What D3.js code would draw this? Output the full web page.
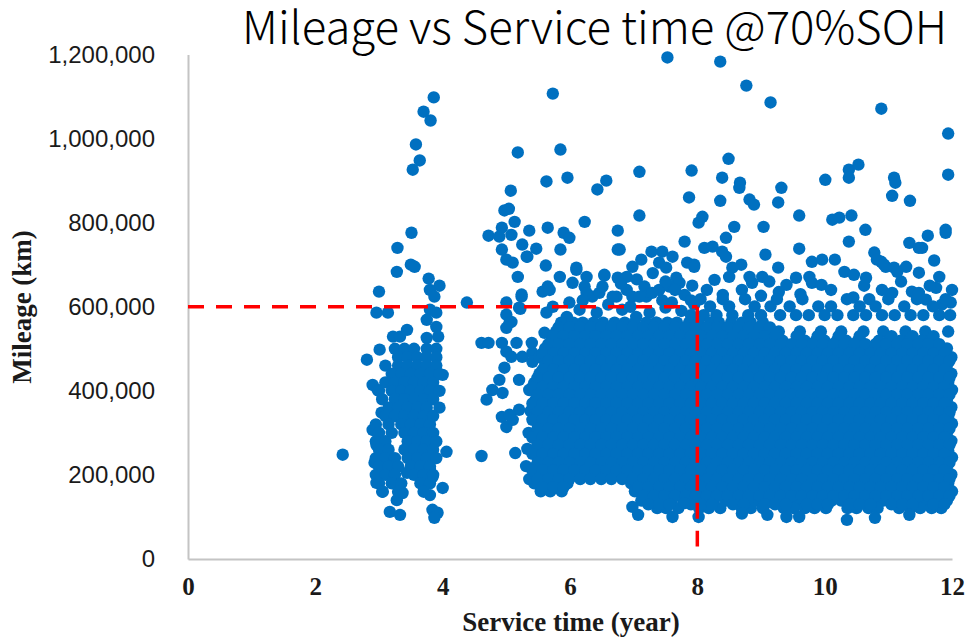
<!DOCTYPE html>
<html>
<head>
<meta charset="utf-8">
<script src="https://cdn.jsdelivr.net/npm/d3@7"></script>
<style>
  html, body { margin: 0; padding: 0; background: #fff; }
  svg { display: block; }
</style>
</head>
<body>
<div id="app"></div>
<script>
// ---------- Data ----------
// service time in years, mileage in thousands of km

const TITLE = "Mileage vs Service time @70%SOH";
const X_LABEL = "Service time (year)";
const Y_LABEL = "Mileage (km)";

const X_TICKS = [0, 2, 4, 6, 8, 10, 12];
const Y_TICKS = [0, 200, 400, 600, 800, 1000, 1200];

// 70% SOH reference: 600,000 km at 8 years
const REF_YEAR = 8;
const REF_MILEAGE = 600;
const REF_LINE_BOTTOM = 30;

// isolated high-mileage points
const highPoints = [
  [3.86,1098],[3.70,1064],[3.81,1043],[3.58,986],[3.64,948],[3.53,926],
  [5.73,1107],[5.18,967],[5.85,974],[5.63,898],[5.96,907],[6.57,900],[6.43,879],
  [5.07,876],[4.97,829],[5.04,833],[5.13,802],[4.93,788],[4.72,769],[5.65,788],
  [5.36,781],[5.90,776],[5.99,764],[6.23,802],[6.75,781],[6.75,736],[5.85,736],
  [5.47,738],[5.32,719],[4.89,767],[5.08,771],[4.93,736],[5.00,712],[5.10,705],
  [5.25,748],[5.33,719],[5.62,698],[5.18,671],[6.54,674],[6.10,688],[6.78,736],
  [7.53,1193],[8.36,1183],[8.77,1126],[9.15,1086],[10.89,1071],[11.94,1012],
  [11.94,914],[8.49,952],[7.91,924],[7.09,921],[8.39,907],[8.67,895],[8.66,883],
  [9.32,883],[8.82,855],[8.89,843],[9.27,848],[8.36,852],[7.87,860],[10.01,902],
  [10.38,926],[10.38,907],[10.53,938],[11.09,907],[11.11,895],[11.06,864],
  [11.34,852],[7.09,817],[9.60,817],[8.08,814],[8.02,800],[8.58,790],[9.04,790],
  [10.12,807],[10.23,812],[10.42,817],[10.64,783],[11.90,783],[11.90,776],
  [11.62,769],[7.80,755],[9.60,738],[10.38,755],[8.45,764],[9.07,724],[11.33,752],
  [11.53,740],[11.72,710],[10.78,729],[10.16,712],[9.27,693],[9.80,707],[9.96,712],
  [8.11,740],[8.24,743],[8.39,731],[7.95,700],[8.45,719],[8.69,700],[10.89,707],
  [10.96,695],[11.48,740],[7.45,731],[7.28,731],[7.12,712],[7.61,719],[7.84,705]
];

// points in the 600k-700k band
const upperBand = [
  [11.80,671],[11.75,645],[11.98,610],[8.27,664],[8.50,671],[8.55,693],[8.82,671],
  [8.86,657],[9.02,671],[9.13,660],[9.40,652],[9.55,669],[9.76,671],[9.80,657],
  [9.95,652],[10.31,683],[10.46,676],[10.65,669],[10.82,712],[10.93,700],[11.09,693],
  [11.14,683],[11.28,695],[11.48,681],[10.90,640],[11.06,633],[11.37,636],[11.48,633],
  [11.59,617],[11.84,605],[6.10,693],[5.84,671],[5.65,648],[5.57,636],[6.26,671],
  [6.23,648],[6.54,676],[6.75,669],[6.89,671],[6.98,695],[7.40,705],[7.51,693],
  [7.67,669],[7.72,657],[7.95,695],[7.40,640],[7.56,648],[7.17,648],[6.98,624],
  [7.20,624],[5.73,600],[5.99,610],[6.35,624],[6.46,633],[6.73,624],[5.68,640],
  [6.04,657],[6.26,633],[6.51,648],[6.67,624],[6.89,640],[7.09,624],[7.29,633],
  [5.63,586],[5.95,576],[6.15,593],[6.42,586],[6.82,593],[7.04,576],[7.25,586],
  [7.36,562],[7.60,610],[7.80,628],[7.92,650],[8.15,640],[8.40,628],[8.70,640],
  [9.00,626],[9.28,635],[9.62,630],[10.10,640],[10.45,622],[10.62,650],[11.20,660],
  [11.65,650],[12.00,640],[6.60,605],[6.95,600],[7.50,598],[7.75,590],[7.95,605],
  [6.20,615],[7.45,615],[7.65,640],[6.80,655],[7.05,665],[7.30,680],[7.50,660],
  [7.90,615]
];

// semi-dense rows just above the solid block, 8-12 years
const bandRows = [
  [580, [7.90,8.10,8.30,8.55,8.80,9.00,9.30,9.55,9.75,10.00,10.20,10.45,10.65,10.90,11.10,11.35,11.55,11.80,11.97]],
  [601, [8.20,8.50,8.90,9.15,9.45,9.90,10.10,10.55,10.80,11.25,11.70]],
  [618, [8.05,8.40,8.75,9.25,9.65,10.35,10.70,11.00,11.45,11.90]]
];

// early vehicles, 2.4-4.6 years
const earlyPoints = [
  [3.51,776],[3.29,740],[3.28,683],[3.50,700],[3.56,695],[3.78,667],[3.95,650],
  [3.00,636],[2.96,586],[3.14,586],[3.80,640],[3.87,624],[3.80,593],[3.90,586],
  [3.75,569],[3.90,552],[3.93,529],[3.44,545],[3.22,529],[3.33,529],[3.75,526],
  [2.81,474],[3.01,498],[2.90,414],[2.98,402],[4.00,438],[3.04,348],[2.90,307],
  [2.96,271],[2.43,248],[4.06,255],[2.93,229],[2.96,181],[3.06,160],[3.37,157],
  [3.28,140],[3.17,112],[3.33,105],[3.80,152],[4.00,169],[3.84,117],[3.92,110],
  [3.87,98],[3.44,205],[3.80,212],[3.84,195],[4.38,610]
];

const earlyRows = [
  [500, [3.25,3.40,3.55,3.75,3.90]],
  [480, [3.30,3.45,3.60,3.75,3.90]],
  [460, [3.10,3.30,3.45,3.60,3.75,3.90]],
  [440, [3.20,3.35,3.50,3.65,3.80,3.95]],
  [420, [3.10,3.25,3.40,3.55,3.70,3.85]],
  [400, [3.00,3.20,3.35,3.50,3.65,3.80,3.95]],
  [380, [3.05,3.25,3.40,3.55,3.70,3.85]],
  [360, [3.15,3.30,3.45,3.60,3.75,3.95]],
  [340, [3.10,3.25,3.40,3.55,3.70,3.85]],
  [320, [2.95,3.15,3.35,3.50,3.65,3.80]],
  [300, [3.00,3.20,3.40,3.55,3.70,3.85]],
  [280, [2.95,3.10,3.45,3.60,3.75,3.90]],
  [260, [3.00,3.15,3.40,3.55,3.70,3.85]],
  [240, [2.95,3.10,3.25,3.45,3.60,3.75,3.90]],
  [220, [3.00,3.15,3.30,3.50,3.65,3.80]],
  [200, [2.95,3.10,3.25,3.55,3.70,3.85]],
  [180, [3.00,3.20,3.35,3.65,3.80]],
  [160, [3.05,3.30,3.70]]
];

// points between the two groups, 4.5-5.7 years
const midPoints = [
  [4.61,514],[4.72,514],[4.93,514],[5.00,493],[5.08,481],[4.97,455],[4.89,426],
  [4.78,402],[4.69,379],[4.94,395],[4.93,338],[5.00,314],[4.61,245],[5.14,252],
  [5.20,426],[5.36,402],[5.16,514],[5.25,481],[5.40,514],[5.41,490],[5.41,469],
  [5.10,331],[5.20,355],[5.05,343],[5.00,581],[5.08,564],[5.24,624],[5.20,598],
  [5.22,595],[5.00,610],[5.05,562],[5.00,550],[5.60,538],[5.73,531],[5.24,629],
  [5.35,300],[5.33,262],[5.38,352],[5.31,221],[5.36,190]
];

// bulk of the fleet, 5.5-12 years
const denseRows = [
  [562, [5.86,6.05,6.20,6.37,6.52,6.70,6.86,7.02,7.20,7.35,7.53,7.68,7.87,8.02,8.20,8.34,8.53,8.70,8.84,9.03]],
  [541, [5.78,5.96,6.11,6.29,6.44,6.62,6.77,6.96,7.10,7.29,7.43,7.62,7.77,7.95,8.10,8.28,8.43,8.62,8.76,8.95,9.09,9.28,9.61,9.94,10.26,10.61,10.92,11.27,11.58,11.94]],
  [519, [5.71,5.87,6.04,6.21,6.35,6.54,6.68,6.87,7.02,7.20,7.35,7.53,7.68,7.87,8.01,8.20,8.34,8.53,8.68,8.86,9.01,9.19,9.34,9.69,9.86,10.00,10.19,10.34,10.52,10.85,11.00,11.19,11.33,11.52,11.66]],
  [501, [5.61,5.79,5.94,6.13,6.27,6.46,6.60,6.79,6.94,7.12,7.27,7.45,7.60,7.79,7.93,8.12,8.26,8.45,8.60,8.78,8.93,9.11,9.26,9.45,9.59,9.78,9.92,10.11,10.26,10.44,10.59,10.77,10.92,11.11,11.25,11.44,11.58,11.77,11.92]],
  [480, [5.52,5.71,5.85,6.04,6.19,6.37,6.52,6.70,6.85,7.04,7.18,7.37,7.51,7.70,7.85,8.03,8.18,8.36,8.51,8.70,8.84,9.03,9.17,9.36,9.51,9.69,9.84,10.02,10.17,10.36,10.50,10.69,10.83,11.02,11.17,11.35,11.50,11.68,11.83,11.99]],
  [461, [5.61,5.79,5.94,6.13,6.27,6.46,6.60,6.79,6.94,7.12,7.27,7.45,7.60,7.79,7.93,8.12,8.26,8.45,8.60,8.78,8.93,9.11,9.26,9.45,9.59,9.78,9.92,10.11,10.26,10.44,10.59,10.77,10.92,11.11,11.25,11.44,11.58,11.77,11.92]],
  [441, [5.52,5.71,5.85,6.04,6.19,6.37,6.52,6.70,6.85,7.04,7.18,7.37,7.51,7.70,7.85,8.03,8.18,8.36,8.51,8.70,8.84,9.03,9.17,9.36,9.51,9.69,9.84,10.02,10.17,10.36,10.50,10.69,10.83,11.02,11.17,11.35,11.50,11.68,11.83,11.99]],
  [419, [5.44,5.63,5.77,5.96,6.11,6.29,6.44,6.62,6.77,6.96,7.10,7.29,7.43,7.62,7.77,7.95,8.10,8.28,8.43,8.62,8.76,8.95,9.09,9.28,9.43,9.61,9.76,9.94,10.09,10.28,10.42,10.61,10.75,10.94,11.09,11.27,11.42,11.60,11.75,11.94]],
  [402, [5.54,5.69,5.87,6.02,6.21,6.35,6.54,6.68,6.87,7.02,7.20,7.35,7.53,7.68,7.87,8.01,8.20,8.34,8.53,8.68,8.86,9.01,9.19,9.34,9.53,9.67,9.86,10.00,10.19,10.34,10.52,10.66,10.85,11.00,11.19,11.33,11.52,11.66,11.85,12.00]],
  [379, [5.46,5.61,5.79,5.94,6.13,6.27,6.46,6.60,6.79,6.94,7.12,7.27,7.45,7.60,7.79,7.93,8.12,8.26,8.45,8.60,8.78,8.93,9.11,9.26,9.45,9.59,9.78,9.92,10.11,10.26,10.44,10.59,10.77,10.92,11.11,11.25,11.44,11.58,11.77,11.92]],
  [361, [5.52,5.71,5.85,6.04,6.19,6.37,6.52,6.70,6.85,7.04,7.18,7.37,7.51,7.70,7.85,8.03,8.18,8.36,8.51,8.70,8.84,9.03,9.17,9.36,9.51,9.69,9.84,10.02,10.17,10.36,10.50,10.69,10.83,11.02,11.17,11.35,11.50,11.68,11.83,11.99]],
  [338, [5.44,5.63,5.77,5.96,6.11,6.29,6.44,6.62,6.77,6.96,7.10,7.29,7.43,7.62,7.77,7.95,8.10,8.28,8.43,8.62,8.76,8.95,9.09,9.28,9.43,9.61,9.76,9.94,10.09,10.28,10.42,10.61,10.75,10.94,11.09,11.27,11.42,11.60,11.75,11.94]],
  [322, [5.54,5.69,5.87,6.02,6.21,6.35,6.54,6.68,6.87,7.02,7.20,7.35,7.53,7.68,7.87,8.01,8.20,8.34,8.53,8.68,8.86,9.01,9.19,9.34,9.53,9.67,9.86,10.00,10.19,10.34,10.52,10.66,10.85,11.00,11.19,11.33,11.52,11.66,11.85,12.00]],
  [299, [5.46,5.61,5.79,5.94,6.13,6.27,6.46,6.60,6.79,6.94,7.12,7.27,7.45,7.60,7.79,7.93,8.12,8.26,8.45,8.60,8.78,8.93,9.11,9.26,9.45,9.59,9.78,9.92,10.11,10.26,10.44,10.59,10.77,10.92,11.11,11.25,11.44,11.58,11.77,11.92]],
  [281, [5.52,5.71,5.85,6.04,6.19,6.37,6.52,6.70,6.85,7.04,7.18,7.37,7.51,7.70,7.85,8.03,8.18,8.36,8.51,8.70,8.84,9.03,9.17,9.36,9.51,9.69,9.84,10.02,10.17,10.36,10.50,10.69,10.83,11.02,11.17,11.35,11.50,11.68,11.83,11.99]],
  [258, [5.44,5.63,5.77,5.96,6.11,6.29,6.44,6.62,6.77,6.96,7.10,7.29,7.43,7.62,7.77,7.95,8.10,8.28,8.43,8.62,8.76,8.95,9.09,9.28,9.43,9.61,9.76,9.94,10.09,10.28,10.42,10.61,10.75,10.94,11.09,11.27,11.42,11.60,11.75,11.94]],
  [242, [5.54,5.69,5.87,6.02,6.21,6.35,6.54,6.68,6.87,7.02,7.20,7.35,7.53,7.68,7.87,8.01,8.20,8.34,8.53,8.68,8.86,9.01,9.19,9.34,9.53,9.67,9.86,10.00,10.19,10.34,10.52,10.66,10.85,11.00,11.19,11.33,11.52,11.66,11.85,12.00]],
  [219, [5.46,5.61,5.79,5.94,6.13,6.27,6.46,6.60,6.79,6.94,7.12,7.27,7.45,7.60,7.79,7.93,8.12,8.26,8.45,8.60,8.78,8.93,9.11,9.26,9.45,9.59,9.78,9.92,10.11,10.26,10.44,10.59,10.77,10.92,11.11,11.25,11.44,11.58,11.77,11.92]],
  [201, [5.52,5.71,5.85,6.04,6.19,6.37,6.52,6.70,6.85,7.04,7.18,7.37,7.51,7.70,7.85,8.03,8.18,8.36,8.51,8.70,8.84,9.03,9.17,9.36,9.51,9.69,9.84,10.02,10.17,10.36,10.50,10.69,10.83,11.02,11.17,11.35,11.50,11.68,11.83,11.99]],
  [180, [5.44,5.63,5.77,5.96,6.96,7.10,7.29,7.43,7.62,7.77,7.95,8.10,8.28,8.43,8.62,8.76,8.95,9.09,9.28,9.43,9.61,9.76,9.94,10.09,10.28,10.42,10.61,10.75,10.94,11.09,11.27,11.42,11.60,11.75,11.94]],
  [161, [5.54,5.69,5.87,7.02,7.20,7.35,7.53,7.68,7.87,8.01,8.20,8.34,8.53,8.68,8.86,9.01,9.19,9.34,9.53,9.67,9.86,10.00,10.19,10.34,10.52,10.66,10.85,11.00,11.19,11.33,11.52,11.66,11.85,12.00]],
  [139, [7.12,7.27,7.45,7.60,7.79,7.93,8.12,8.26,8.45,8.60,8.78,8.93,9.11,9.26,9.45,9.59,9.78,9.92,10.11,10.26,10.44,10.59,10.77,10.92,11.11,11.25,11.44,11.58,11.77,11.92]],
  [121, [7.37,7.51,7.70,8.03,8.18,8.36,8.70,8.84,9.03,9.36,9.51,9.69,9.84,10.02,10.36,10.50,10.69,10.83,11.17,11.35,11.50,11.68,11.83]]
];

// the same block read between the rows above
const denseFill = [
  [551, [5.82,5.99,6.16,6.32,6.49,6.65,6.82,6.99,7.15,7.32,7.48,7.65,7.82,7.98,8.15,8.31,8.48,8.65,8.81,8.98,9.14]],
  [530, [5.74,5.90,6.07,6.24,6.40,6.57,6.73,6.90,7.07,7.23,7.40,7.56,7.73,7.90,8.06,8.23,8.39,8.56,8.73,8.89,9.06,9.22,9.56,9.89,10.22,10.55,11.05,11.38,11.71]],
  [511, [5.66,5.82,5.99,6.16,6.32,6.49,6.65,6.82,6.99,7.15,7.32,7.48,7.65,7.82,7.98,8.15,8.31,8.48,8.65,8.81,8.98,9.14,9.31,9.48,9.64,9.81,9.97,10.14,10.31,10.47,10.64,10.80,10.97,11.14,11.30,11.47,11.63,11.80]],
  [489, [5.57,5.74,5.90,6.07,6.24,6.40,6.57,6.73,6.90,7.07,7.23,7.40,7.56,7.73,7.90,8.06,8.23,8.39,8.56,8.73,8.89,9.06,9.22,9.39,9.56,9.72,9.89,10.05,10.22,10.39,10.55,10.72,10.88,11.05,11.22,11.38,11.55,11.71,11.88]],
  [471, [5.66,5.82,5.99,6.16,6.32,6.49,6.65,6.82,6.99,7.15,7.32,7.48,7.65,7.82,7.98,8.15,8.31,8.48,8.65,8.81,8.98,9.14,9.31,9.48,9.64,9.81,9.97,10.14,10.31,10.47,10.64,10.80,10.97,11.14,11.30,11.47,11.63,11.80,11.96]],
  [450, [5.57,5.74,5.90,6.07,6.24,6.40,6.57,6.73,6.90,7.07,7.23,7.40,7.56,7.73,7.90,8.06,8.23,8.39,8.56,8.73,8.89,9.06,9.22,9.39,9.56,9.72,9.89,10.05,10.22,10.39,10.55,10.72,10.88,11.05,11.22,11.38,11.55,11.71,11.88]],
  [431, [5.49,5.66,5.82,5.99,6.16,6.32,6.49,6.65,6.82,6.99,7.15,7.32,7.48,7.65,7.82,7.98,8.15,8.31,8.48,8.65,8.81,8.98,9.14,9.31,9.48,9.64,9.81,9.97,10.14,10.31,10.47,10.64,10.80,10.97,11.14,11.30,11.47,11.63,11.80,11.96]],
  [409, [5.41,5.57,5.74,5.90,6.07,6.24,6.40,6.57,6.73,6.90,7.07,7.23,7.40,7.56,7.73,7.90,8.06,8.23,8.39,8.56,8.73,8.89,9.06,9.22,9.39,9.56,9.72,9.89,10.05,10.22,10.39,10.55,10.72,10.88,11.05,11.22,11.38,11.55,11.71,11.88]],
  [391, [5.49,5.66,5.82,5.99,6.16,6.32,6.49,6.65,6.82,6.99,7.15,7.32,7.48,7.65,7.82,7.98,8.15,8.31,8.48,8.65,8.81,8.98,9.14,9.31,9.48,9.64,9.81,9.97,10.14,10.31,10.47,10.64,10.80,10.97,11.14,11.30,11.47,11.63,11.80,11.96]],
  [370, [5.41,5.57,5.74,5.90,6.07,6.24,6.40,6.57,6.73,6.90,7.07,7.23,7.40,7.56,7.73,7.90,8.06,8.23,8.39,8.56,8.73,8.89,9.06,9.22,9.39,9.56,9.72,9.89,10.05,10.22,10.39,10.55,10.72,10.88,11.05,11.22,11.38,11.55,11.71,11.88]],
  [349, [5.49,5.66,5.82,5.99,6.16,6.32,6.49,6.65,6.82,6.99,7.15,7.32,7.48,7.65,7.82,7.98,8.15,8.31,8.48,8.65,8.81,8.98,9.14,9.31,9.48,9.64,9.81,9.97,10.14,10.31,10.47,10.64,10.80,10.97,11.14,11.30,11.47,11.63,11.80,11.96]],
  [331, [5.41,5.57,5.74,5.90,6.07,6.24,6.40,6.57,6.73,6.90,7.07,7.23,7.40,7.56,7.73,7.90,8.06,8.23,8.39,8.56,8.73,8.89,9.06,9.22,9.39,9.56,9.72,9.89,10.05,10.22,10.39,10.55,10.72,10.88,11.05,11.22,11.38,11.55,11.71,11.88]],
  [310, [5.49,5.66,5.82,5.99,6.16,6.32,6.49,6.65,6.82,6.99,7.15,7.32,7.48,7.65,7.82,7.98,8.15,8.31,8.48,8.65,8.81,8.98,9.14,9.31,9.48,9.64,9.81,9.97,10.14,10.31,10.47,10.64,10.80,10.97,11.14,11.30,11.47,11.63,11.80,11.96]],
  [289, [5.41,5.57,5.74,5.90,6.07,6.24,6.40,6.57,6.73,6.90,7.07,7.23,7.40,7.56,7.73,7.90,8.06,8.23,8.39,8.56,8.73,8.89,9.06,9.22,9.39,9.56,9.72,9.89,10.05,10.22,10.39,10.55,10.72,10.88,11.05,11.22,11.38,11.55,11.71,11.88]],
  [271, [5.49,5.66,5.82,5.99,6.16,6.32,6.49,6.65,6.82,6.99,7.15,7.32,7.48,7.65,7.82,7.98,8.15,8.31,8.48,8.65,8.81,8.98,9.14,9.31,9.48,9.64,9.81,9.97,10.14,10.31,10.47,10.64,10.80,10.97,11.14,11.30,11.47,11.63,11.80,11.96]],
  [250, [5.41,5.57,5.74,5.90,6.07,6.24,6.40,6.57,6.73,6.90,7.07,7.23,7.40,7.56,7.73,7.90,8.06,8.23,8.39,8.56,8.73,8.89,9.06,9.22,9.39,9.56,9.72,9.89,10.05,10.22,10.39,10.55,10.72,10.88,11.05,11.22,11.38,11.55,11.71,11.88]],
  [229, [5.49,5.66,5.82,5.99,6.16,6.32,6.49,6.65,6.82,6.99,7.15,7.32,7.48,7.65,7.82,7.98,8.15,8.31,8.48,8.65,8.81,8.98,9.14,9.31,9.48,9.64,9.81,9.97,10.14,10.31,10.47,10.64,10.80,10.97,11.14,11.30,11.47,11.63,11.80,11.96]],
  [211, [5.41,5.57,5.74,5.90,6.07,6.24,6.40,6.57,6.73,6.90,7.07,7.23,7.40,7.56,7.73,7.90,8.06,8.23,8.39,8.56,8.73,8.89,9.06,9.22,9.39,9.56,9.72,9.89,10.05,10.22,10.39,10.55,10.72,10.88,11.05,11.22,11.38,11.55,11.71,11.88]],
  [190, [5.49,5.66,5.82,5.99,6.16,6.32,6.49,6.65,6.82,6.99,7.15,7.32,7.48,7.65,7.82,7.98,8.15,8.31,8.48,8.65,8.81,8.98,9.14,9.31,9.48,9.64,9.81,9.97,10.14,10.31,10.47,10.64,10.80,10.97,11.14,11.30,11.47,11.63,11.80,11.96]],
  [171, [5.57,5.74,5.90,7.07,7.23,7.40,7.56,7.73,7.90,8.06,8.23,8.39,8.56,8.73,8.89,9.06,9.22,9.39,9.56,9.72,9.89,10.05,10.22,10.39,10.55,10.72,10.88,11.05,11.22,11.38,11.55,11.71,11.88]],
  [150, [7.15,7.32,7.48,7.65,7.82,7.98,8.15,8.31,8.48,8.65,8.81,8.98,9.14,9.31,9.48,9.64,9.81,9.97,10.14,10.31,10.47,10.64,10.80,10.97,11.14,11.30,11.47,11.63,11.80,11.96]],
  [130, [7.23,7.40,7.56,7.90,8.06,8.23,8.56,8.73,9.06,9.22,9.39,9.72,9.89,10.05,10.39,10.55,10.72,11.05,11.22,11.38,11.71,11.88]]
];

// lowest-mileage stragglers
const lowPoints = [
  [7.07,105],[7.61,100],[8.02,100],[9.40,100],[9.60,100],[10.35,93],[10.79,98],
  [11.33,105],[9.10,105],[8.70,108],[6.98,124],[7.80,133]
];


// ---------- Layout ----------

const WIDTH = 966;
const HEIGHT = 639;
const X0 = 188, X1 = 952;
const Y0 = 559, Y1 = 54.5;

const POINT_RADIUS = 6.2;
const POINT_COLOR = "#0070C0";


function main() {

    // flatten the row tables into [year, mileage] pairs
    const fromRows = rows => rows.flatMap(([km, years]) => years.map(yr => [yr, km]));

    const points = [].concat(
        highPoints,
        upperBand,
        fromRows(bandRows),
        earlyPoints,
        fromRows(earlyRows),
        midPoints,
        fromRows(denseRows),
        fromRows(denseFill),
        lowPoints
    );

    const svg = d3.select("#app")
        .append("svg")
        .attr("width", WIDTH)
        .attr("height", HEIGHT);

    const x = d3.scaleLinear().domain([0, 12]).range([X0, X1]);
    const y = d3.scaleLinear().domain([0, 1200]).range([Y0, Y1]);

    // ---------- Axes ----------

    const yAxis = svg.append("g")
        .attr("transform", `translate(${X0}, 0)`)
        .call(d3.axisLeft(y)
            .tickValues(Y_TICKS)
            .tickSize(0)
            .tickPadding(33)
            .tickFormat(d => d3.format(",")(d * 1000)));
    yAxis.select(".domain").attr("stroke", "#c4c4c4").attr("stroke-width", 2);
    yAxis.selectAll("text")
        .attr("fill", "#1a1a1a")
        .style("font-family", "'Liberation Sans', Arial, sans-serif")
        .style("font-size", "24px");

    const xAxis = svg.append("g")
        .attr("transform", `translate(0, ${Y0})`)
        .call(d3.axisBottom(x)
            .tickValues(X_TICKS)
            .tickSize(0)
            .tickPadding(18));
    xAxis.select(".domain").attr("stroke", "#c4c4c4").attr("stroke-width", 2);
    xAxis.selectAll("text")
        .attr("fill", "#1a1a1a")
        .style("font-family", "'Liberation Serif', 'Times New Roman', serif")
        .style("font-weight", "bold")
        .style("font-size", "25px");

    // ---------- Points ----------

    svg.append("g")
        .selectAll("circle")
        .data(points)
        .enter()
        .append("circle")
        .attr("cx", d => x(d[0]))
        .attr("cy", d => y(d[1]))
        .attr("r", POINT_RADIUS)
        .attr("fill", POINT_COLOR);

    // ---------- Reference lines ----------

    const dash = { stroke: "#FF0000", width: 3.5, pattern: "16,12" };
    svg.append("line")
        .attr("x1", x(0)).attr("x2", x(REF_YEAR))
        .attr("y1", y(REF_MILEAGE)).attr("y2", y(REF_MILEAGE))
        .attr("stroke", dash.stroke)
        .attr("stroke-width", dash.width)
        .attr("stroke-dasharray", dash.pattern);
    svg.append("line")
        .attr("x1", x(REF_YEAR)).attr("x2", x(REF_YEAR))
        .attr("y1", y(REF_MILEAGE)).attr("y2", y(REF_LINE_BOTTOM))
        .attr("stroke", dash.stroke)
        .attr("stroke-width", dash.width)
        .attr("stroke-dasharray", dash.pattern);

    // ---------- Labels ----------

    svg.append("text")
        .attr("x", 947)
        .attr("y", 44)
        .attr("text-anchor", "end")
        .style("font-family", "'Noto Sans CJK SC', 'Noto Sans', sans-serif")
        .style("font-weight", 300)
        .style("font-size", "45.5px")
        .attr("fill", "#000")
        .text(TITLE);

    svg.append("text")
        .attr("x", 571)
        .attr("y", 631)
        .attr("text-anchor", "middle")
        .style("font-family", "'Liberation Serif', 'Times New Roman', serif")
        .style("font-weight", "bold")
        .style("font-size", "27px")
        .attr("fill", "#1a1a1a")
        .text(X_LABEL);

    svg.append("text")
        .attr("transform", `translate(31, 307) rotate(-90)`)
        .attr("text-anchor", "middle")
        .style("font-family", "'Liberation Serif', 'Times New Roman', serif")
        .style("font-weight", "bold")
        .style("font-size", "27px")
        .attr("fill", "#1a1a1a")
        .text(Y_LABEL);
}

main();
</script>
</body>
</html>
